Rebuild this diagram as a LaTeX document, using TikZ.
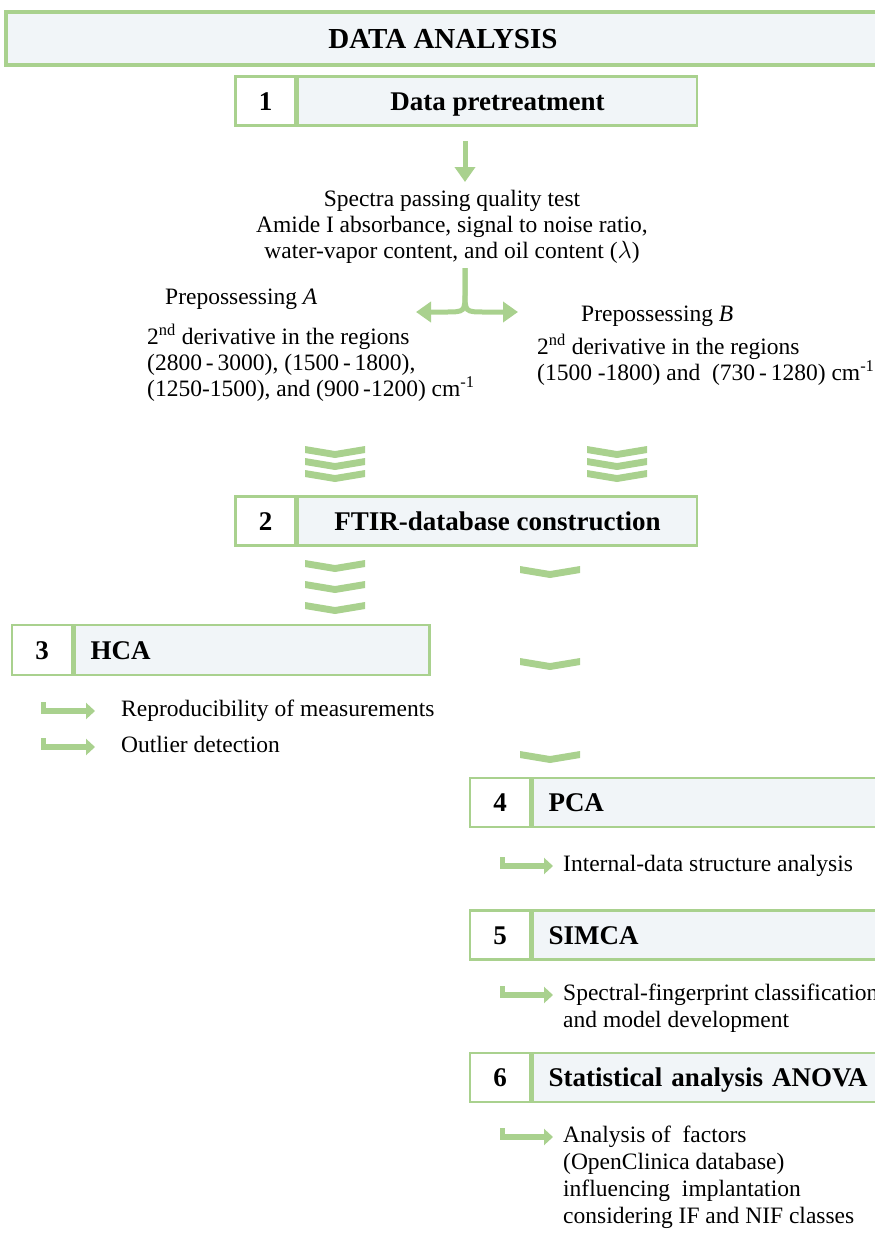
\documentclass[tikz,border=0pt]{standalone}
\usepackage{fontspec}
\setmainfont{Liberation Serif}
\usetikzlibrary{positioning,arrows.meta}
\definecolor{leafgreen}{RGB}{169,209,142}
\definecolor{boxfill}{RGB}{241,245,248}
\newcommand{\gchev}[2]{\fill[leafgreen] (#1-30,#2) -- (#1,#2+5) -- (#1+30,#2) -- (#1+30,#2+7) -- (#1,#2+12) -- (#1-30,#2+7) -- cycle;}

\begin{document}
\begin{tikzpicture}[x=1pt,y=-1pt,
    every node/.style={inner sep=0pt,font=\fontsize{23.5}{26}\selectfont},
    cell/.style={draw=leafgreen,line width=2.5pt,minimum height=49pt,text height=18pt,text depth=0pt,
        font=\fontsize{27}{30}\selectfont\bfseries},
    numcell/.style={cell,fill=white,minimum width=60pt},
    labcell/.style={cell,fill=boxfill},
    leftcell/.style={labcell,text width=#1,align=left,inner xsep=16pt},
    item/.style={anchor=north west,align=left,font=\fontsize{23.5}{27}\selectfont},
    garrow/.style={draw=leafgreen,line width=5pt,-{Triangle[width=20pt,length=15pt]}},
    retarrow/.style={draw=leafgreen,line width=5.5pt,-{Triangle[width=16pt,length=9pt]}}]
    \useasboundingbox (0,0) rectangle (875,1234);

    \node[draw=leafgreen,line width=4pt,fill=boxfill,minimum width=874pt,minimum height=53pt,
        text height=19pt,text depth=0pt,font=\fontsize{29}{30}\selectfont\bfseries] (title) at (443,38.5) {DATA ANALYSIS};

    \node[numcell] (n1) at (265.5,101) {1};
    \node[labcell,minimum width=399pt,right=0pt of n1] (d1) {Data pretreatment};

    \node[anchor=north,align=center] (spectra) at (452,190)
        {Spectra passing quality test\\Amide I absorbance, signal to noise ratio,\\water-vapor content, and oil content ($\lambda$)};
    \coordinate (split) at (465,268);
    \coordinate (tipA) at (416,312);
    \coordinate (tipB) at (518,312);

    \node[anchor=north west] (prepA) at (165,289) {Prepossessing \textit{A}};
    \node[item,font=\fontsize{23.5}{26}\selectfont] (derivA) at (147,324)
        {2\textsuperscript{nd} derivative in the regions\\(2800\,-\,3000), (1500\,-\,1800),\\(1250-1500), and (900\,-1200) cm\textsuperscript{-1}};
    \node[anchor=north west] (prepB) at (581,306) {Prepossessing \textit{B}};
    \node[item,font=\fontsize{23.5}{26}\selectfont] (derivB) at (537,334)
        {2\textsuperscript{nd} derivative in the regions\\(1500 -1800) and~ (730\,-\,1280) cm\textsuperscript{-1}};

    \draw[garrow] ([yshift=-14pt]d1.south -| split) -- ([yshift=8pt]spectra.north -| split);
    \draw[garrow] (split) -- (465,292) .. controls (465,312) .. (445,312) -- (tipA);
    \draw[garrow] (split) -- (465,292) .. controls (465,312) .. (485,312) -- (tipB);

    \foreach \y in {446,458,470} {\gchev{335}{\y} \gchev{617}{\y}}

    \node[numcell] (n2) at (265.5,521) {2};
    \node[labcell,minimum width=399pt,right=0pt of n2] (d2) {FTIR-database construction};

    \foreach \y in {560,581,602} {\gchev{335}{\y}}
    \foreach \y in {566,658,751} {\gchev{550}{\y}}

    \node[numcell,minimum width=60pt,minimum height=50pt] (n3) at (42,650) {3};
    \node[leftcell=323pt,minimum height=50pt,right=0pt of n3] (d3) {HCA};
    \node[item] (r3a) at (121,700) {Reproducibility of measurements};
    \node[item] (r3b) at (121,736) {Outlier detection};
    \draw[retarrow] ([xshift=-77.5pt,yshift=-2pt]r3a.north west) |- ([xshift=-26pt,yshift=-11pt]r3a.north west);
    \draw[retarrow] ([xshift=-77.5pt,yshift=-2pt]r3b.north west) |- ([xshift=-26pt,yshift=-11pt]r3b.north west);

    \node[numcell] (n4) at (500,802.5) {4};
    \node[leftcell=348pt,right=0pt of n4] (d4) {PCA};
    \node[item] (s4) at (563,855) {Internal-data structure analysis};
    \draw[retarrow] ([xshift=-60.5pt,yshift=-2pt]s4.north west) |- ([xshift=-10pt,yshift=-11pt]s4.north west);

    \node[numcell] (n5) at (500,935) {5};
    \node[leftcell=348pt,right=0pt of n5] (d5) {SIMCA};
    \node[item] (s5) at (563,984) {Spectral-fingerprint classification\\and model development};
    \draw[retarrow] ([xshift=-60.5pt,yshift=-2pt]s5.north west) |- ([xshift=-10pt,yshift=-11pt]s5.north west);

    \node[numcell] (n6) at (500,1077.5) {6};
    \node[leftcell=348pt,right=0pt of n6] (d6) {Statistical analysis ANOVA};
    \node[item] (s6) at (563,1126) {Analysis of~ factors\\(OpenClinica database)\\influencing~ implantation\\considering IF and NIF classes};
    \draw[retarrow] ([xshift=-60.5pt,yshift=-2pt]s6.north west) |- ([xshift=-10pt,yshift=-11pt]s6.north west);
\end{tikzpicture}
\end{document}
